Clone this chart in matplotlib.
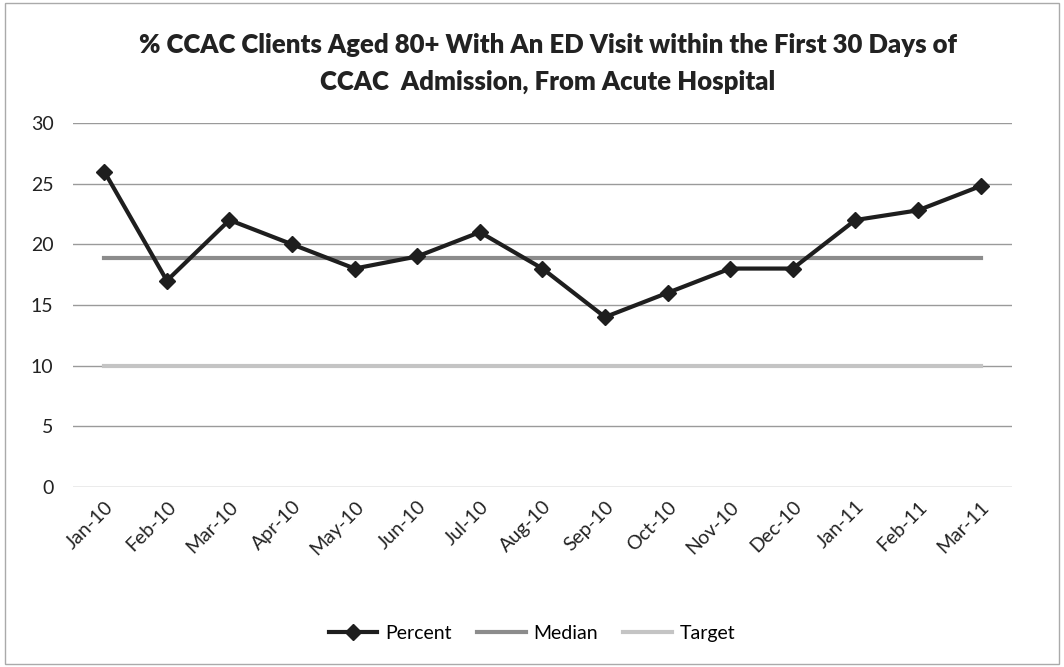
import matplotlib.pyplot as plt
from matplotlib.patches import Rectangle

months = ["Jan-10", "Feb-10", "Mar-10", "Apr-10", "May-10", "Jun-10", "Jul-10",
          "Aug-10", "Sep-10", "Oct-10", "Nov-10", "Dec-10", "Jan-11", "Feb-11", "Mar-11"]
percent = [26, 17, 22, 20, 18, 19, 21, 18, 14, 16, 18, 18, 22, 22.8, 24.8]
median = [18.9] * len(months)
target = [10] * len(months)

plt.rcParams['font.family'] = ['Lato', 'DejaVu Sans']

fig = plt.figure(figsize=(10.64, 6.67), dpi=100)
ax = fig.add_axes([0.0686, 0.27, 0.8824, 0.5456])

x = list(range(len(months)))
ax.plot(x, target, color='#c4c4c4', lw=3, label='Target', zorder=2)
ax.plot(x, median, color='#8c8c8c', lw=3, label='Median', zorder=3)
ax.plot(x, percent, color='#1e1e1e', lw=3, marker='D', markersize=8,
        label='Percent', zorder=4)

ax.set_xlim(-0.5, len(months) - 0.5)
ax.set_ylim(0, 30)
ax.set_yticks(range(0, 31, 5))
ax.set_xticks(x)
ax.set_xticklabels(months, rotation=45, ha='right', rotation_mode='anchor')
ax.tick_params(axis='both', length=0, labelsize=14, colors='#222222')
ax.tick_params(axis='y', pad=14)
ax.tick_params(axis='x', pad=8)
ax.yaxis.grid(True, color='#9a9a9a', lw=1)
ax.set_axisbelow(True)
for s in ax.spines.values():
    s.set_visible(False)

fig.suptitle('% CCAC Clients Aged 80+ With An ED Visit within the First 30 Days of\n'
             'CCAC  Admission, From Acute Hospital',
             x=0.515, y=0.95, fontsize=18.5, fontweight='heavy', color='#222222',
             linespacing=1.6)

h, l = ax.get_legend_handles_labels()
order = [2, 1, 0]
fig.legend([h[i] for i in order], [l[i] for i in order], loc='center',
           bbox_to_anchor=(0.5, 0.05), ncol=3, frameon=False, fontsize=14,
           handlelength=2.5, columnspacing=1.3, handletextpad=0.4)

fig.patches.append(Rectangle((0.005, 0.005), 0.99, 0.99, transform=fig.transFigure,
                             fill=False, edgecolor='#aaaaaa', lw=1))

fig.savefig('out.png', dpi=100)
